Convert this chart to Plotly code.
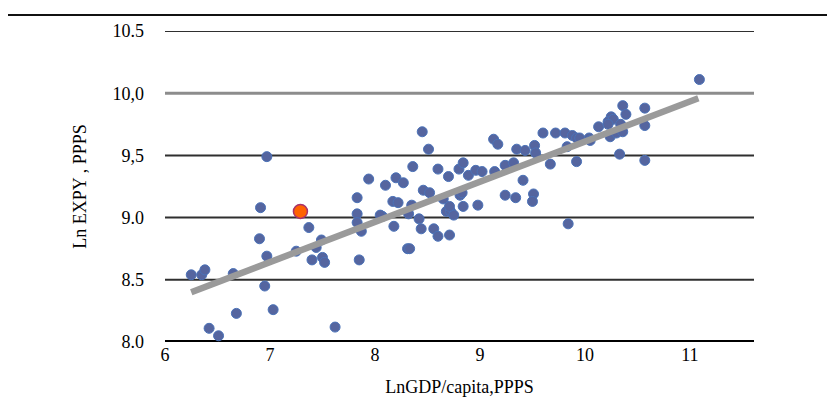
import plotly.graph_objects as go

# Country points: ln GDP per capita (PPPS) vs ln EXPY (PPPS)
ln_gdp = [
    6.25, 6.35, 6.38, 6.65, 6.95, 6.68, 7.03, 6.42, 6.51, 6.97,
    6.91, 7.37, 6.90, 6.97, 7.25, 7.44, 7.49, 7.40, 7.50, 7.52,
    7.62, 7.85, 7.83, 7.83, 7.83, 7.87, 7.94, 8.10, 8.20, 8.17,
    8.22, 8.07, 8.18, 8.45, 8.51, 8.36, 8.60, 8.70, 8.80, 8.27,
    8.46, 8.52, 8.35, 8.65, 8.32, 8.42, 8.68, 8.72, 8.75, 8.44,
    8.56, 8.60, 8.71, 8.31, 8.33, 8.05, 8.84, 8.89, 8.96, 9.02,
    9.13, 9.17, 9.14, 9.24, 9.32, 9.35, 9.43, 9.52, 9.53, 9.41,
    8.81, 8.83, 9.24, 9.34, 9.51, 9.50, 8.71, 8.84, 8.98, 9.60,
    9.72, 9.81, 9.88, 9.92, 10.04, 10.13, 9.83, 9.67, 9.92, 9.84,
    11.09, 10.36, 10.57, 10.39, 10.25, 10.22, 10.27, 10.22, 10.34, 10.57,
    10.24, 10.30, 10.36, 10.05, 9.95, 10.33, 10.57,
]
ln_expy = [
    8.54, 8.54, 8.58, 8.55, 8.45, 8.23, 8.26, 8.11, 8.05, 9.49,
    9.08, 8.92, 8.83, 8.69, 8.73, 8.76, 8.82, 8.66, 8.68, 8.64,
    8.12, 8.66, 9.16, 9.03, 8.96, 8.89, 9.31, 9.26, 9.32, 9.13,
    9.12, 9.01, 8.93, 9.69, 9.55, 9.41, 9.39, 9.33, 9.39, 9.28,
    9.22, 9.20, 9.10, 9.15, 9.03, 8.99, 9.05, 9.05, 9.02, 8.91,
    8.91, 8.85, 8.86, 8.75, 8.75, 9.02, 9.44, 9.34, 9.38, 9.37,
    9.63, 9.59, 9.37, 9.42, 9.44, 9.55, 9.54, 9.58, 9.52, 9.30,
    9.18, 9.20, 9.18, 9.16, 9.19, 9.13, 9.09, 9.09, 9.10, 9.68,
    9.68, 9.68, 9.66, 9.64, 9.64, 9.73, 9.57, 9.43, 9.45, 8.95,
    10.11, 9.90, 9.88, 9.83, 9.81, 9.77, 9.79, 9.75, 9.75, 9.74,
    9.65, 9.68, 9.69, 9.62, 9.64, 9.51, 9.46,
]

# Highlighted country
focus_gdp = [7.29]
focus_expy = [9.05]

# Linear trend, end points
trend_gdp = [6.25, 11.08]
trend_expy = [8.40, 9.96]

y_ticks = [8.0, 8.5, 9.0, 9.5, 10.0, 10.5]
y_tick_text = ["8.0", "8.5", "9.0", "9,5", "10,0", "10.5"]
x_ticks = [6, 7, 8, 9, 10, 11]

# Horizontal rules: colour / width for each y tick
rule_colors = ["#000000", "#2f2f2f", "#2f2f2f", "#2f2f2f", "#8c8c8c", "#2f2f2f"]
rule_widths = [4, 2, 2, 2, 3, 2]

FONT = "Liberation Serif"

fig = go.Figure()

fig.add_trace(
    go.Scatter(
        x=ln_gdp,
        y=ln_expy,
        mode="markers",
        marker=dict(
            size=10,
            color="#55659f",
            line=dict(color="#4a72b8", width=1),
        ),
        cliponaxis=False,
        showlegend=False,
    )
)

fig.add_trace(
    go.Scatter(
        x=trend_gdp,
        y=trend_expy,
        mode="lines",
        line=dict(color="#9a9a9a", width=6.5),
        showlegend=False,
    )
)

fig.add_trace(
    go.Scatter(
        x=focus_gdp,
        y=focus_expy,
        mode="markers",
        marker=dict(
            size=14,
            color="#ff6200",
            line=dict(color="#a8326a", width=1.5),
        ),
        cliponaxis=False,
        showlegend=False,
    )
)

# Horizontal rules drawn as shapes so each can have its own style
shapes = []
for yv, col, w in zip(y_ticks, rule_colors, rule_widths):
    shapes.append(
        dict(
            type="line",
            xref="paper",
            yref="y",
            x0=0,
            x1=1,
            y0=yv,
            y1=yv,
            line=dict(color=col, width=w),
            layer="below",
        )
    )

# Page rule above the chart
shapes.append(
    dict(
        type="line",
        xref="paper",
        yref="paper",
        x0=-0.29,
        x1=1.14,
        y0=1.0514,
        y1=1.0514,
        line=dict(color="#111111", width=2),
    )
)

# The page body adds an 8px margin, so the figure is a bit smaller
fig.update_layout(
    width=827,
    height=399,
    margin=dict(l=157, r=81, t=23, b=65),
    plot_bgcolor="white",
    paper_bgcolor="white",
    font=dict(family=FONT, size=18, color="#000000"),
    shapes=shapes,
    xaxis=dict(
        range=[6, 11.61],
        tickvals=x_ticks,
        showgrid=False,
        zeroline=False,
        showline=False,
        ticks="",
        tickfont=dict(family=FONT, size=18),
        title=dict(
            text="LnGDP/capita,PPPS",
            font=dict(family=FONT, size=18),
            standoff=16,
        ),
    ),
    yaxis=dict(
        range=[8, 10.5],
        tickvals=y_ticks,
        ticktext=y_tick_text,
        showgrid=False,
        zeroline=False,
        showline=False,
        ticks="",
        ticklabelstandoff=20,
        tickfont=dict(family=FONT, size=18),
        title=dict(
            text="Ln EXPY , PPPS",
            font=dict(family=FONT, size=18),
            standoff=21,
        ),
    ),
)

fig.write_html("out.html")
